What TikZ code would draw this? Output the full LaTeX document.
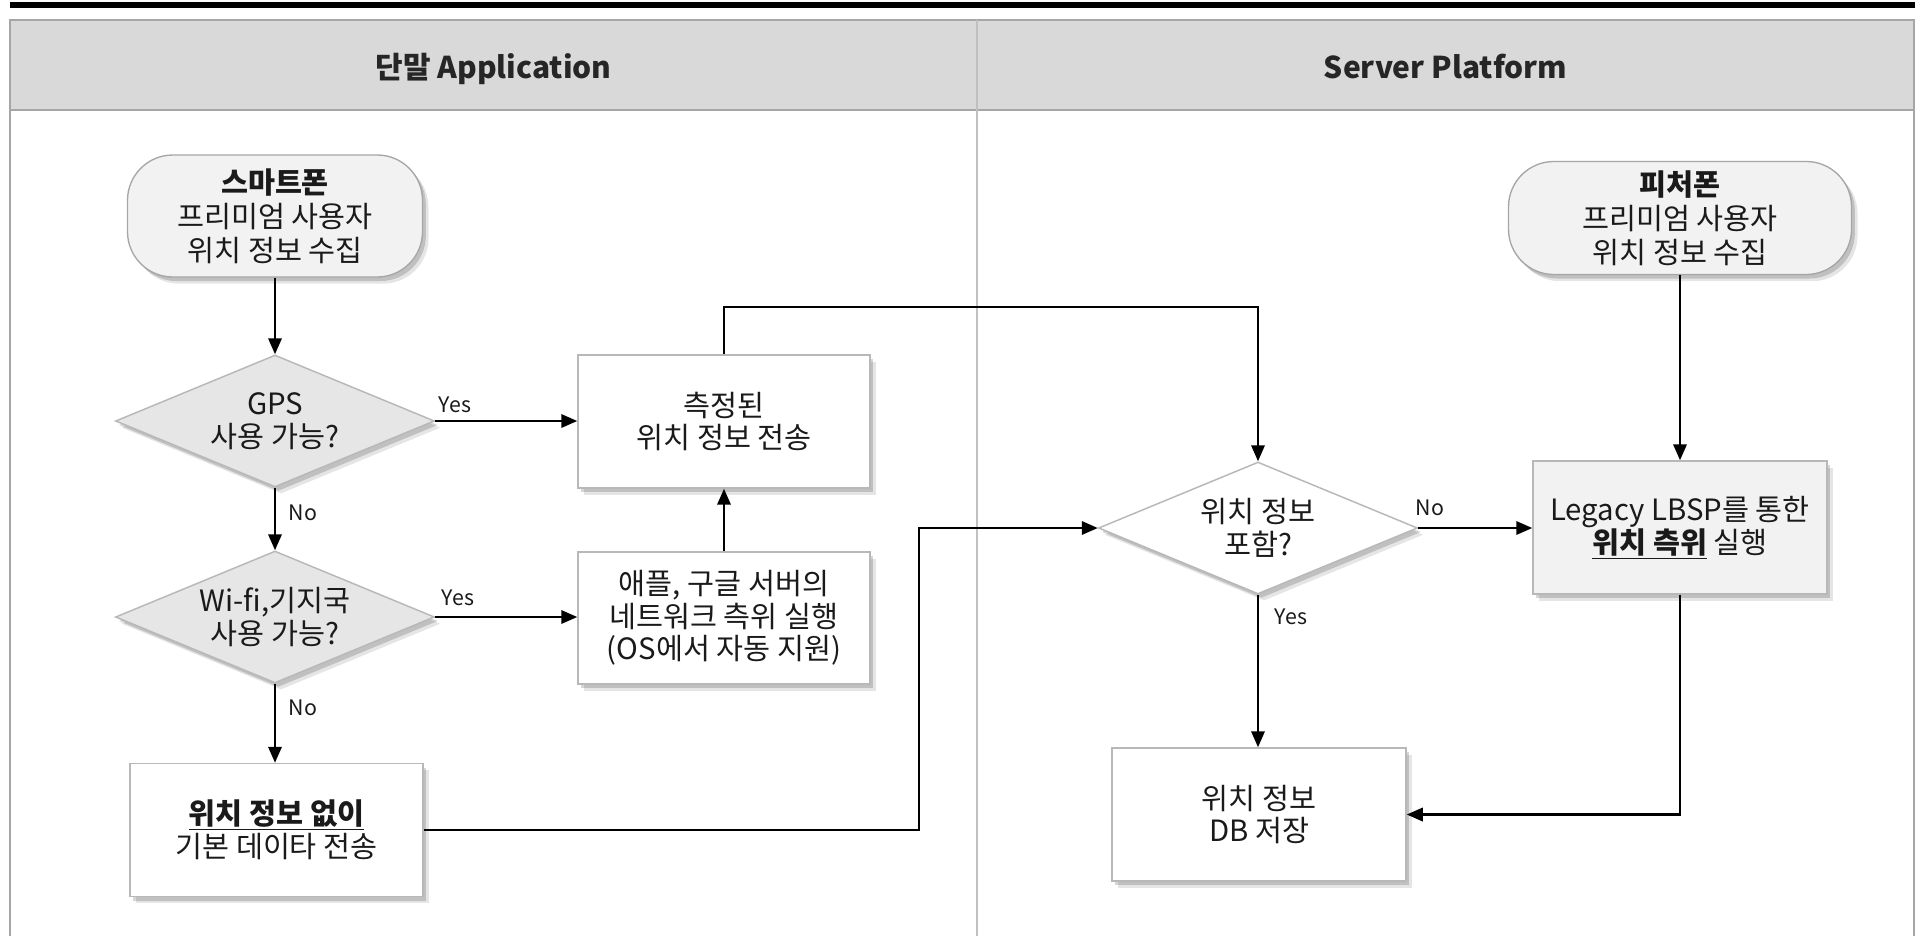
\documentclass[tikz,border=0pt]{standalone}
\usepackage{fontspec}
\setmainfont{Noto Sans CJK KR}
\usetikzlibrary{shapes.geometric,arrows.meta,shadows,calc}
\newdimen\PX \PX=0.75pt
\definecolor{hdr}{HTML}{D9D9D9}
\definecolor{lanec}{HTML}{A6A6A6}
\definecolor{divc}{HTML}{C0C0C0}
\definecolor{edgegray}{HTML}{B8B8B8}
\definecolor{lightfill}{HTML}{F2F2F2}
\definecolor{dfill}{HTML}{E6E6E6}
\definecolor{txt}{HTML}{1A1A1A}
\tikzset{
  shd/.style={drop shadow={shadow xshift=2.5pt,shadow yshift=-3pt,fill=black,opacity=0.16},
              drop shadow={shadow xshift=4.5pt,shadow yshift=-5pt,fill=black,opacity=0.10}},
  bodytext/.style={font=\fontsize{22}{24.5}\selectfont, text=txt, align=center},
  term/.style={shd, bodytext, font=\fontsize{22}{25.5}\selectfont, rectangle, rounded corners=34pt, draw=lanec, line width=1pt, fill=lightfill, inner sep=0pt},
  proc/.style={shd, bodytext, rectangle, draw=edgegray, line width=1.1pt, fill=white, minimum width=293\PX, minimum height=133\PX, inner sep=0pt},
  dec/.style={shd, bodytext, diamond, shape aspect=2.4, draw=edgegray, line width=1.1pt, fill=dfill, minimum width=319\PX, minimum height=132\PX, inner sep=0pt},
  flow/.style={line width=1.8pt, draw=black, -{Triangle[length=12pt,width=10pt]}},
  lbl/.style={font=\fontsize{16}{18}\selectfont, text=txt},
  lanehead/.style={font=\bfseries\fontsize{22.5}{27}\selectfont, text=black!85},
}
\begin{document}
\begin{tikzpicture}[x=0.75pt,y=-0.75pt]
\useasboundingbox (0,0) rectangle (1919,936);
\fill[white] (0,0) rectangle (1919,936);
% top bar
\fill[black] (10,2) rectangle (1915,8);
% swimlanes
\fill[hdr] (10,19.5) rectangle (1914,110);
\draw[lanec, line width=1.5pt] (10,936) -- (10,19.5) -- (1914,19.5) -- (1914,936);
\draw[lanec, line width=1.5pt] (10,110) -- (1914,110);
\draw[divc, line width=1.5pt] (977,19.5) -- (977,936);
\node[lanehead, anchor=base] (h1) at (493.5,78) {단말 Application};
\node[lanehead, anchor=base] (h2) at (1445.5,78) {Server Platform};

% nodes
\node[term, minimum width=295\PX, minimum height=122\PX] (sp) at (275,216) {\textbf{스마트폰}\\프리미엄 사용자\\위치 정보 수집};
\node[term, minimum width=343\PX, minimum height=113\PX] (fp) at (1680,218) {\textbf{피처폰}\\프리미엄 사용자\\위치 정보 수집};
\node[dec] (gps) at (275,421) {GPS\\사용 가능?};
\node[dec] (wifi) at (275,617) {Wi-fi,기지국\\사용 가능?};
\node[dec, fill=white] (inc) at (1258,528) {위치 정보\\포함?};
\node[proc, minimum width=292\PX] (m1) at (724,421.5) {측정된\\위치 정보 전송};
\node[proc, minimum width=292\PX, minimum height=132\PX] (m2) at (724,618) {애플, 구글 서버의\\네트워크 측위 실행\\(OS에서 자동 지원)};
\node[proc] (nol) at (276.5,830) {\underline{\textbf{위치 정보 없이}}\\기본 데이타 전송};
\node[proc, fill=lightfill, minimum width=294\PX] (leg) at (1680,527.5) {Legacy LBSP를 통한\\\underline{\textbf{위치 측위}} 실행};
\node[proc, minimum width=294\PX] (db) at (1259,814.5) {위치 정보\\DB 저장};

% turn points
\coordinate (t1) at (1258,307);
\coordinate (t2) at (919,528);

% connectors
\draw[flow] (sp.south) -- (sp.south |- gps.north);
\draw[flow] (gps.east) -- (gps.east -| m1.west);
\draw[flow] (gps.south) -- (wifi.north);
\draw[flow] (wifi.east) -- (wifi.east -| m2.west);
\draw[flow] (wifi.south) -- (wifi.south |- nol.north);
\draw[flow] (m2.north) -- (m1.south);
\draw[flow] (m1.north) |- (t1) -- (inc.north);
\draw[flow] (nol.east) -| (t2) -- (inc.west);
\draw[flow] (inc.east) -- (inc.east -| leg.west);
\draw[flow] (inc.south) -- (inc.south |- db.north);
\draw[flow] (fp.south) -- (fp.south |- leg.north);
\draw[flow] (leg.south) |- (db.east);

% labels
\node[lbl] (y1) at (455,405) {Yes};
\node[lbl] (n1) at (303,513) {No};
\node[lbl] (y2) at (458,598) {Yes};
\node[lbl] (n2) at (303,708) {No};
\node[lbl] (n3) at (1430,508) {No};
\node[lbl] (y3) at (1291,617) {Yes};
\end{tikzpicture}
\end{document}
